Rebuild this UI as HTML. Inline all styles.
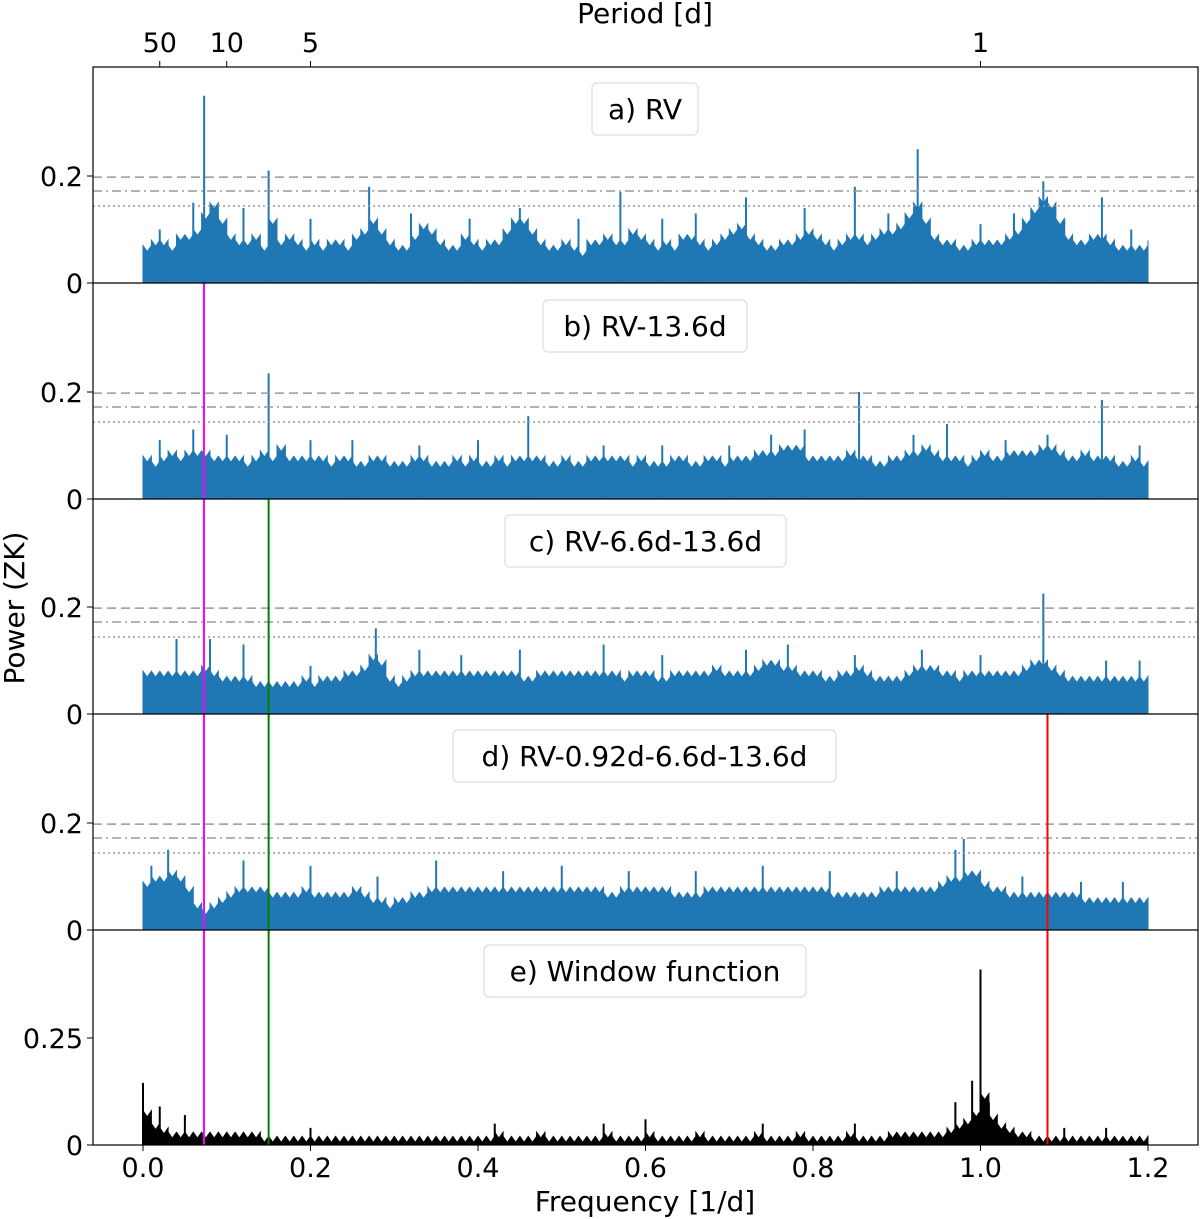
<!DOCTYPE html>
<html><head><meta charset="utf-8"><style>
html,body{margin:0;padding:0;background:#fff;}
svg{display:block;font-family:"DejaVu Sans","Liberation Sans",sans-serif;}
</style></head><body>
<svg id="chart" width="1200" height="1219" viewBox="0 0 1200 1219" xmlns="http://www.w3.org/2000/svg"></svg>
<script>
// ---- data (values ×100, frequency step 0.01 from 0 to 1.2) ----
const freqStep = 0.01;
const panelA = [7,8,8,7,9,9,10,13,15,12,9, 8,8,9,7,12,8,9,8,7,8, 7,8,8,7,9,10,12,10,8,7, 7,9,11,10,8,7,7,9,8,7, 8,8,10,12,12,10,8,7,7,8, 7,6,8,8,9,8,8,10,9,8, 7,8,7,9,9,8,7,8,9,10, 11,9,8,7,7,8,8,9,10,9, 8,7,8,9,9,8,9,10,10,11, 13,15,12,9,8,8,7,7,8,8, 8,8,9,10,12,14,16,15,12,9, 8,8,9,9,8,7,7,7,7,8];
const panelB = [8,7,8,9,8,9,9,9,8,8,8, 8,7,8,9,8,10,8,8,8,8, 8,7,8,8,7,7,8,8,7,7, 7,8,8,7,7,7,8,7,8,7, 7,8,7,8,8,8,8,7,7,8, 7,7,8,8,8,8,8,7,8,7, 7,7,8,8,7,7,8,8,7,8, 8,8,9,9,9,10,10,10,8,8, 8,8,8,9,8,8,7,7,8,8, 9,9,10,9,8,8,8,7,8,9, 8,8,9,9,9,9,10,10,9,8, 8,9,8,8,8,7,7,8,7,7];
const panelC = [8,8,8,8,8,8,8,9,8,7,7, 7,7,6,6,6,6,6,6,7,6, 7,7,7,8,8,9,11,10,7,6, 7,8,8,8,8,8,8,8,8,8, 8,8,8,8,7,7,8,8,8,8, 8,8,8,8,8,8,7,8,8,8, 7,7,8,8,8,8,8,9,8,8, 8,8,9,10,10,9,9,8,8,8, 7,7,8,8,9,8,7,7,7,7, 8,9,9,9,8,8,7,8,8,8, 8,8,8,8,9,10,10,9,8,7, 7,7,7,7,7,7,7,7,7,7];
const panelD = [9,10,10,11,10,8,5,4,5,6,7, 8,8,8,8,7,7,7,7,8,7, 7,7,7,7,8,7,6,6,5,6, 6,7,7,8,8,8,8,8,8,8, 8,8,8,8,8,8,8,8,8,8, 8,8,8,8,7,7,8,8,8,8, 8,8,7,7,7,7,8,8,8,8, 8,8,8,8,8,8,8,8,8,8, 8,7,7,7,7,7,7,8,8,8, 8,8,8,8,9,10,10,11,11,9, 8,8,7,7,7,7,7,7,7,7, 7,6,6,6,6,6,6,6,6,6];
const panelE = [8,5,4,3,3,3,3,3,3,3,3, 3,3,3,2,2,2,2,2,2,2, 2,2,2,2,2,2,2,2,2,2, 2,2,2,2,2,2,2,2,2,2, 2,3,2,2,2,2,3,2,2,2, 2,2,2,2,3,2,2,2,2,3, 2,2,2,2,2,3,2,2,2,2, 2,2,3,2,2,2,2,3,2,2, 2,2,2,3,2,2,2,2,3,3, 3,3,3,3,3,4,5,6,8,12, 7,5,4,3,3,2,2,2,2,2, 2,2,2,2,2,2,2,2,2,2];
// spikes: frequencies and powers
const peaksAFreq = [0.073,0.15,0.27,0.45,0.57,0.72,0.85,0.925,1.075,1.145,0.02,0.06,0.12,0.2,0.32,0.39,0.52,0.62,0.66,0.79,0.89,1.0,1.04,1.1,1.18];
const peaksAPow  = [0.35,0.21,0.18,0.14,0.17,0.16,0.18,0.25,0.19,0.16,0.1,0.15,0.14,0.12,0.13,0.12,0.12,0.12,0.13,0.14,0.13,0.11,0.13,0.12,0.1];
const peaksBFreq = [0.15,0.46,0.855,1.145,0.96,0.79,0.06,0.02,0.1,0.2,0.25,0.33,0.4,0.55,0.62,0.7,0.75,0.92,1.03,1.08,1.19];
const peaksBPow  = [0.235,0.155,0.2,0.185,0.14,0.13,0.13,0.11,0.12,0.11,0.11,0.1,0.11,0.1,0.1,0.1,0.12,0.12,0.11,0.12,0.1];
const peaksCFreq = [0.278,1.075,0.77,0.55,0.04,0.12,0.08,0.2,0.33,0.38,0.45,0.62,0.72,0.85,0.93,1.0,1.15,1.19];
const peaksCPow  = [0.16,0.225,0.13,0.13,0.14,0.13,0.14,0.09,0.12,0.11,0.12,0.11,0.12,0.11,0.12,0.11,0.1,0.1];
const peaksDFreq = [0.03,0.98,0.97,0.12,0.35,0.01,0.2,0.28,0.43,0.5,0.58,0.66,0.74,0.82,0.9,1.05,1.12,1.17];
const peaksDPow  = [0.15,0.17,0.15,0.13,0.13,0.12,0.12,0.1,0.11,0.12,0.11,0.11,0.12,0.11,0.11,0.1,0.09,0.09];
const peaksEFreq = [0.0,1.0,0.99,1.01,0.6,0.02,0.05,0.2,0.42,0.55,0.74,0.85,0.97,1.1,1.15];
const peaksEPow  = [0.145,0.41,0.15,0.1,0.06,0.09,0.07,0.04,0.05,0.05,0.05,0.05,0.1,0.04,0.04];
const thresholds = [0.198,0.172,0.144];
const xTicks = [0,0.2,0.4,0.6,0.8,1.0,1.2];
const xTickLabels = ["0.0","0.2","0.4","0.6","0.8","1.0","1.2"];
const periodTicks = [50,10,5,1];
const markFreqs = [0.0728,0.15,1.08];
const panelLabels = ["a) RV","b) RV-13.6d","c) RV-6.6d-13.6d","d) RV-0.92d-6.6d-13.6d","e) Window function"];

// ---- layout ----
const NS="http://www.w3.org/2000/svg";
const svg=document.getElementById('chart');
const L=93,R=1198,TOP=67;
const zeros=[283,499,714,930,1145];
const X=f=>143+(f)*837.5;
function mk(tag,attrs,parent){const e=document.createElementNS(NS,tag);for(const k in attrs)e.setAttribute(k,attrs[k]);(parent||svg).appendChild(e);return e;}
function txt(s,x,y,size,anchor,parent){const t=mk('text',{x:x,y:y,'font-size':size,'text-anchor':anchor||'middle',fill:'#000'},parent);t.textContent=s;return t;}

const panels=[
 {vals:panelA,pf:peaksAFreq,pp:peaksAPow,scale:535,col:'#1f77b4',ticks:[[0,'0'],[0.2,'0.2']],thr:true},
 {vals:panelB,pf:peaksBFreq,pp:peaksBPow,scale:535,col:'#1f77b4',ticks:[[0,'0'],[0.2,'0.2']],thr:true},
 {vals:panelC,pf:peaksCFreq,pp:peaksCPow,scale:535,col:'#1f77b4',ticks:[[0,'0'],[0.2,'0.2']],thr:true},
 {vals:panelD,pf:peaksDFreq,pp:peaksDPow,scale:535,col:'#1f77b4',ticks:[[0,'0'],[0.2,'0.2']],thr:true},
 {vals:panelE,pf:peaksEFreq,pp:peaksEPow,scale:428,col:'#000',ticks:[[0,'0'],[0.25,'0.25']],thr:false}
];
const names=['a','b','c','d','e'];
panels.forEach((p,i)=>{
  const z=zeros[i];
  const g=mk('g',{});
  
  
  const Y=v=>z-v*p.scale;
  // stepped area
  const n=p.vals.length;
  const xEnd=X((n-1)*freqStep);
  let d='M'+X(0)+','+z;
  p.vals.forEach((v,k)=>{
    const x0=X(k*freqStep), x1=Math.min(X((k+1)*freqStep),xEnd);
    const y=Y(v/100).toFixed(1);
    const xm=(x0+x1)/2;
    d+=' L'+x0.toFixed(1)+','+y+' L'+xm.toFixed(1)+','+(Y(v/100)+6).toFixed(1)+' L'+x1.toFixed(1)+','+y;
  });
  d+=' L'+xEnd+','+z+' Z';
  const a=mk('path',{d:d,fill:p.col,stroke:p.col,'stroke-width':1},g);
  
  
  p.pf.forEach((f,k)=>{
    const ln=mk('line',{x1:X(f),x2:X(f),y1:z,y2:Y(p.pp[k]),stroke:p.col,'stroke-width':2},g);
    
    
  });
  if(p.thr){
    const dash=['9,5','9,4,2,4','2,3'];
    thresholds.forEach((t,k)=>{
      const ln=mk('line',{x1:L,x2:R,y1:Y(t),y2:Y(t),stroke:'#999','stroke-width':1.5,'stroke-dasharray':dash[k]},g);
      
      
    });
  }
  p.ticks.forEach(([v,s])=>{
    mk('line',{x1:L-6,x2:L,y1:Y(v),y2:Y(v),stroke:'#000','stroke-width':1},g);
    const t=txt(s,L-10,Y(v)+10,27,'end',g);
    
    
  });
});
// vertical markers
const markCols=['#ff00ff','#008000','#ff0000'];
const markStart=[283,499,714];
markFreqs.forEach((f,k)=>{
  const ln=mk('line',{x1:X(f),x2:X(f),y1:markStart[k],y2:1145,stroke:markCols[k],'stroke-width':2});
  
  
});
// frames
const fr=mk('rect',{x:L,y:TOP,width:R-L,height:1145-TOP,fill:'none',stroke:'#000','stroke-width':1.2});


zeros.slice(0,4).forEach(z=>{mk('line',{x1:L,x2:R,y1:z,y2:z,stroke:'#000','stroke-width':1.2});});
// labels
const boxes=[[592,83,106],[543,300,204],[505,515,281],[453,730,383],[484,945,322]];
panelLabels.forEach((s,i)=>{
  const b=boxes[i];
  const r=mk('rect',{x:b[0],y:b[1],width:b[2],height:52,rx:5,fill:'#fff',stroke:'#ddd','stroke-width':1.2});
  
  
  const t=txt(s,b[0]+b[2]/2,b[1]+36,28);
  
  
});
// x ticks
xTicks.forEach((f,k)=>{
  mk('line',{x1:X(f),x2:X(f),y1:1145,y2:1151,stroke:'#000'});
  const t=txt(xTickLabels[k],X(f),1177,27);
  
  
});
periodTicks.forEach(p=>{
  const x=X(1/p);
  mk('line',{x1:x,x2:x,y1:61,y2:67,stroke:'#000'});
  const t=txt(String(p),x,52,27);
  
  
});
let t=txt('Frequency [1/d]',645,1211,28);


t=txt('Period [d]',645,23,28);


t=txt('Power (ZK)',0,0,28);
t.setAttribute('transform','translate(24,608) rotate(-90)');


</script>
</body></html>
